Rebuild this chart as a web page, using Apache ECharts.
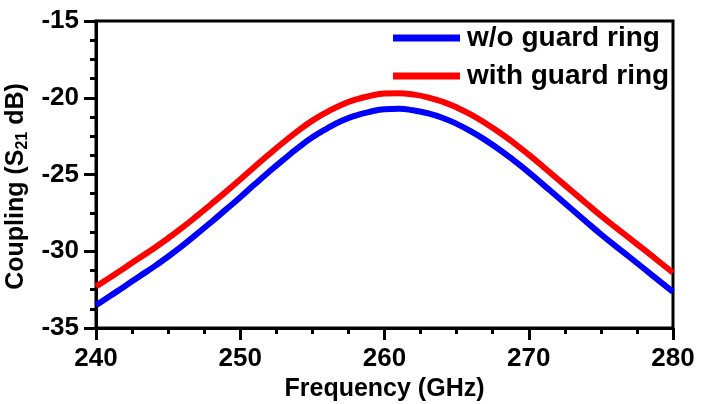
<!DOCTYPE html>
<html>
<head>
<meta charset="utf-8">
<script src="https://cdn.jsdelivr.net/npm/echarts@6/dist/echarts.min.js"></script>
<style>
html,body{margin:0;padding:0;background:#fff;}
#chart{width:701px;height:404px;}
</style>
</head>
<body>
<div id="chart"></div>
<script>
var freqs = [240, 241, 242, 243, 244, 245, 246, 247, 248, 249, 250, 251, 252, 253, 254, 255, 256, 257, 258, 259, 260,
             261, 262, 263, 264, 265, 266, 267, 268, 269, 270, 271, 272, 273, 274, 275, 276, 277, 278, 279, 280];
var withoutRing = [-33.52, -32.90, -32.28, -31.64, -31.02, -30.34, -29.63, -28.87, -28.09, -27.29, -26.48,
                   -25.64, -24.82, -24.03, -23.27, -22.58, -22.01, -21.52, -21.16, -20.91, -20.75,
                   -20.72, -20.82, -21.01, -21.30, -21.70, -22.19, -22.76, -23.40, -24.11, -24.86,
                   -25.66, -26.47, -27.28, -28.09, -28.89, -29.65, -30.39, -31.14, -31.90, -32.65];
var withRing = [-32.30, -31.69, -31.07, -30.44, -29.82, -29.15, -28.45, -27.70, -26.92, -26.13, -25.32,
                -24.49, -23.68, -22.90, -22.16, -21.49, -20.94, -20.47, -20.12, -19.88, -19.73,
                -19.70, -19.79, -19.97, -20.25, -20.63, -21.10, -21.66, -22.28, -22.97, -23.71,
                -24.49, -25.29, -26.09, -26.89, -27.68, -28.43, -29.16, -29.90, -30.65, -31.40];
var seriesNames = ['w/o guard ring', 'with guard ring'];
var xTicks = [240, 250, 260, 270, 280];
var yTicks = [-35, -30, -25, -20, -15];

var FONT = 'Arial, "Liberation Sans", sans-serif';
function pairs(xs, ys) { return xs.map(function (x, i) { return [x, ys[i]]; }); }

var chart = echarts.init(document.getElementById('chart'), null, {renderer: 'canvas'});
chart.setOption({
  animation: false,
  backgroundColor: '#fff',
  grid: {left: 96, right: 28, top: 21, bottom: 76, containLabel: false, outerBoundsMode: 'none',
         show: true, borderColor: '#000', borderWidth: 3, backgroundColor: 'transparent'},
  legend: {
    orient: 'vertical', left: 393, top: 22, padding: 0,
    itemWidth: 67, itemHeight: 7, itemGap: 6, icon: 'rect',
    data: seriesNames,
    textStyle: {fontFamily: FONT, fontWeight: 'bold', fontSize: 28, color: '#000', lineHeight: 32, padding: [0, 0, 0, 2]}
  },
  xAxis: {
    type: 'value', min: xTicks[0], max: xTicks[xTicks.length - 1], interval: 10,
    name: 'Frequency (GHz)', nameLocation: 'middle', nameGap: 43,
    nameTextStyle: {fontFamily: FONT, fontWeight: 'bold', fontSize: 25, color: '#000'},
    axisLine: {show: true, onZero: false, lineStyle: {color: '#000', width: 3}},
    axisTick: {show: true, inside: false, length: 12, lineStyle: {color: '#000', width: 3}},
    minorTick: {show: true, splitNumber: 4, length: 6, lineStyle: {color: '#000', width: 3}},
    axisLabel: {fontFamily: FONT, fontWeight: 'bold', fontSize: 26, color: '#000', margin: 18},
    splitLine: {show: false}
  },
  yAxis: {
    type: 'value', min: yTicks[0], max: yTicks[yTicks.length - 1], interval: 5,
    name: '{a|Coupling (S}{s|21}{a| dB)}', nameLocation: 'middle', nameGap: 58, nameRotate: 90,
    nameTextStyle: {
      padding: [0, 24, 0, 0],
      rich: {
        a: {fontFamily: FONT, fontWeight: 'bold', fontSize: 25, color: '#000', lineHeight: 28},
        s: {fontFamily: FONT, fontWeight: 'bold', fontSize: 16, color: '#000', verticalAlign: 'bottom', lineHeight: 28, padding: [10, 0, 0, 0]}
      }
    },
    axisLine: {show: true, onZero: false, lineStyle: {color: '#000', width: 3}},
    axisTick: {show: true, inside: false, length: 12, lineStyle: {color: '#000', width: 3}},
    minorTick: {show: true, splitNumber: 4, length: 6, lineStyle: {color: '#000', width: 3}},
    axisLabel: {fontFamily: FONT, fontWeight: 'bold', fontSize: 26, color: '#000', margin: 17},
    splitLine: {show: false}
  },
  series: [
    {name: seriesNames[0], type: 'line', data: pairs(freqs, withoutRing), smooth: true, symbol: 'none',
     lineStyle: {color: '#0000ff', width: 6}, itemStyle: {color: '#0000ff'}},
    {name: seriesNames[1], type: 'line', data: pairs(freqs, withRing), smooth: true, symbol: 'none',
     lineStyle: {color: '#ff0000', width: 6}, itemStyle: {color: '#ff0000'}}
  ]
});
</script>
</body>
</html>
